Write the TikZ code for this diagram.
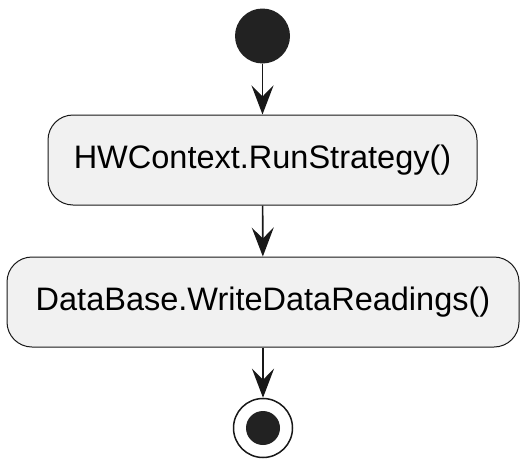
\documentclass[tikz,border=0pt]{standalone}
\usepackage{fontspec}
\setmainfont{Liberation Sans}
\usetikzlibrary{arrows.meta}
\definecolor{boxfill}{HTML}{F1F1F1}
\definecolor{ink}{HTML}{181818}
\definecolor{dot}{HTML}{222222}
\tikzset{
  actbox/.style={draw=ink, line width=1pt, fill=boxfill, rounded corners=25pt,
    minimum height=90pt, inner sep=0pt, font=\fontsize{32.5}{38}\selectfont},
  flow/.style={draw=ink, line width=1.6pt,
    -{Stealth[length=29pt, width=22pt, inset=11pt]}},
}
\begin{document}
\begin{tikzpicture}[x=1pt, y=-1pt]
\useasboundingbox (0,0) rectangle (527,466);
\node[circle, fill=dot, minimum size=55pt, inner sep=0pt] (start) at (262.5,36) {};
\node[actbox, minimum width=429pt] (run) at (262.5,160) {HWContext.RunStrategy()};
\node[actbox, minimum width=512pt] (write) at (263,302) {DataBase.WriteDataReadings()};
\node[circle, draw=ink, line width=1.5pt, fill=white, minimum size=59pt, inner sep=0pt] (stop) at (263,428) {};
\node[circle, fill=dot, minimum size=34pt, inner sep=0pt] (stopdot) at (stop.center) {};
\draw[flow] (start) -- (run);
\draw[flow] (run) -- (write);
\draw[flow] (write) -- (stop);
\end{tikzpicture}
\end{document}
